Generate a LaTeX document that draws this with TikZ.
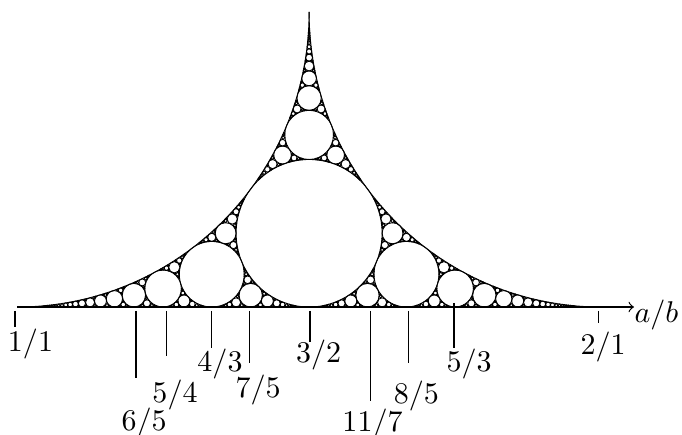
\documentclass[tikz,border=0pt]{standalone}
\usetikzlibrary{arrows,positioning,calc}

% circles are triples k,kx,ky (curvature, curvature times centre)
\def\kmax{1000}
\def\kofi#1,#2,#3\relax{#1}
\def\xofi#1,#2,#3\relax{#2}
\def\yofi#1,#2,#3\relax{#3}
\def\kof#1{(\kofi#1\relax)}
\def\xof#1{(\xofi#1\relax)}
\def\yof#1{(\yofi#1\relax)}

% fill the gap of #1,#2,#3 (#4 is the circle already there)
\newcommand\apol[4]{%
  \edef\nk{\the\numexpr 2*(\kof{#1}+\kof{#2}+\kof{#3})-\kof{#4}\relax}%
  \ifnum\nk<\kmax\relax
    \edef\nx{\the\numexpr 2*(\xof{#1}+\xof{#2}+\xof{#3})-\xof{#4}\relax}%
    \edef\ny{\the\numexpr 2*(\yof{#1}+\yof{#2}+\yof{#3})-\yof{#4}\relax}%
    \draw[disc] ({\nx/\nk},{\ny/\nk}) circle[radius={1/\nk}];
    \edef\apolnext{\noexpand\apol{#1}{#2}{\nk,\nx,\ny}{#3}%
      \noexpand\apol{#1}{#3}{\nk,\nx,\ny}{#2}%
      \noexpand\apol{#2}{#3}{\nk,\nx,\ny}{#1}}%
    \expandafter\apolnext
  \fi}

\begin{document}
\begin{tikzpicture}[
    x=0.3333pt, y=-0.3333pt,
    disc/.style={draw=black, line width=0.3pt},
    tick/.style={draw=black},
    frac/.style={inner sep=0pt, anchor=base}
]
\useasboundingbox (0,0) rectangle (682,435);

% gasket, in a/b units
\coordinate (O) at (-567,307);
\begin{scope}[shift={(O)}, x=194.67pt, y=196.67pt]
  \draw[disc] (1,0) arc[start angle=-90, end angle=0, radius=0.5];
  \draw[disc] (1.5,0.5) arc[start angle=180, end angle=270, radius=0.5];
  \draw[disc] (1.5,0.125) circle[radius=0.125];
  \apol{0,0,-1}{2,2,1}{8,12,1}{2,4,1}
  \apol{0,0,-1}{2,4,1}{8,12,1}{2,2,1}
  \apol{2,2,1}{2,4,1}{8,12,1}{0,0,-1}
\end{scope}

% axis
\coordinate (start) at (17,307);
\node (ab) [frac, anchor=base west] at (634,323) {$a/b$};
\draw [->] (start) -- (start -| ab.west);

% ticks
\foreach \tx/\ta/\tb [count=\i] in {15/311/327, 136/311/378, 166.7/311/356,
    211.7/311/348, 249.7/311/363, 310/311/342, 370.7/311/401,
    408.7/311/363, 454/303/348, 598.3/311/323}
{
  \coordinate (top\i) at (\tx,\ta);
  \coordinate (bot\i) at (\tx,\tb);
  \draw [tick] (top\i) -- (bot\i);
}

% labels
\node (l11) [frac] at (30.5,352) {$1/1$};
\node (l65) [frac] at (144.2,431) {$6/5$};
\node (l54) [frac] at (175,403) {$5/4$};
\node (l43) [frac] at (220,371.7) {$4/3$};
\node (l75) [frac] at (258,398) {$7/5$};
\node (l32) [frac] at (318.5,363) {$3/2$};
\node (l117) [frac] at (372.5,431.7) {$11/7$};
\node (l85) [frac] at (416.3,403.3) {$8/5$};
\node (l53) [frac] at (469,372) {$5/3$};
\node (l21) [frac] at (603,355) {$2/1$};

\end{tikzpicture}
\end{document}
